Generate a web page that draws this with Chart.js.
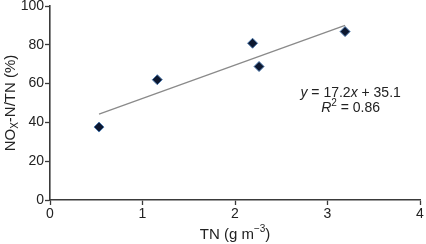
<!DOCTYPE html>
<html>
<head>
<meta charset="utf-8">
<script src="https://cdn.jsdelivr.net/npm/chart.js@4.4.1/dist/chart.umd.min.js"></script>
<style>
  html, body { margin: 0; padding: 0; background: #fff; }
  #wrap { width: 426px; height: 244px; }
</style>
</head>
<body>
<div id="wrap"><canvas id="scatter1"></canvas></div>
<script>
const tnValues = [0.53, 1.16, 2.19, 2.26, 3.19];
const noxValues = [37.6, 62.0, 80.8, 68.8, 86.8];
const fitSlope = 17.2;
const fitIntercept = 35.1;
const fitR2 = 0.86;
const xTicks = [0, 1, 2, 3, 4];
const yTicks = [0, 20, 40, 60, 80, 100];

const font = "Liberation Sans, Arial, Helvetica, sans-serif";
const textColor = "#222";

const points = tnValues.map((x, i) => ({ x: x, y: noxValues[i] }));
const xMin = Math.min(...tnValues);
const xMax = Math.max(...tnValues);
const fitLine = [
  { x: xMin, y: fitSlope * xMin + fitIntercept },
  { x: xMax, y: fitSlope * xMax + fitIntercept },
];

// draws a list of [text, style, shift] pieces starting at x
function drawPieces(ctx, pieces, x, y, align) {
  let total = 0;
  pieces.forEach((p) => {
    ctx.font = p[1];
    total += ctx.measureText(p[0]).width;
  });
  let cx = align === "center" ? x - total / 2 : x;
  pieces.forEach((p) => {
    ctx.font = p[1];
    ctx.fillText(p[0], cx, y + (p[2] || 0));
    cx += ctx.measureText(p[0]).width;
  });
}

const labelsPlugin = {
  id: "labels",
  afterDraw(chart) {
    const ctx = chart.ctx;
    const area = chart.chartArea;
    ctx.save();
    ctx.fillStyle = textColor;
    ctx.textBaseline = "middle";
    ctx.textAlign = "left";
    const t = "15px " + font;
    const tsm = "10px " + font;
    const n = "14px " + font;
    const it = "italic 14px " + font;
    const sm = "10px " + font;

    // x title
    drawPieces(ctx, [["TN (g m", t], ["\u22123", tsm, -6], [")", t]],
      (area.left + area.right) / 2, 235, "center");

    // y title (rotated)
    ctx.save();
    ctx.translate(11, (area.top + area.bottom) / 2);
    ctx.rotate(-Math.PI / 2);
    drawPieces(ctx, [["NO", t], ["X", tsm, 4], ["-N/TN (%)", t]], 0, 0, "center");
    ctx.restore();

    // equation
    const ex = chart.scales.x.getPixelForValue(3.25);
    const ey = chart.scales.y.getPixelForValue(55);
    drawPieces(ctx, [["y", it], [" = " + fitSlope + "", n], ["x", it], [" + " + fitIntercept, n]],
      ex, ey, "center");
    drawPieces(ctx, [["R", it], ["2", sm, -5], [" = " + fitR2.toFixed(2), n]],
      ex, ey + 15, "center");
    ctx.restore();
  },
};

const ctx1 = document.getElementById("scatter1").getContext("2d");
const chart1 = new Chart(ctx1, {
  type: "scatter",
  data: {
    datasets: [
      {
        type: "line",
        label: "fit",
        data: fitLine,
        borderColor: "#8a8a8a",
        borderWidth: 1.3,
        pointRadius: 0,
        fill: false,
        order: 2,
      },
      {
        label: "NOx-N/TN",
        data: points,
        pointStyle: "rectRot",
        pointRadius: 5,
        backgroundColor: "#0d1830",
        borderColor: "#4b78ad",
        borderWidth: 1,
        order: 1,
      },
    ],
  },
  options: {
    responsive: true,
    maintainAspectRatio: false,
    animation: false,
    layout: { padding: { top: 5, right: 4, left: 0, bottom: 0 } },
    plugins: {
      legend: { display: false },
      tooltip: { enabled: false },
    },
    scales: {
      x: {
        type: "linear",
        min: 0,
        max: 4,
        afterBuildTicks: (axis) => {
          axis.ticks = xTicks.map((v) => ({ value: v }));
        },
        afterFit: (axis) => {
          axis.height = 44;
          axis.paddingRight = 0; // keep the axis end where the picture has it
          axis.paddingLeft = 0;
        },
        border: { color: "#3a3a3a", width: 1.6 },
        grid: {
          drawOnChartArea: false,
          drawTicks: true,
          tickLength: 5,
          tickColor: "#3a3a3a",
          tickWidth: 1.3,
        },
        ticks: {
          color: textColor,
          font: { family: font, size: 14 },
          padding: 1,
          maxRotation: 0,
        },
      },
      y: {
        type: "linear",
        min: 0,
        max: 100,
        afterBuildTicks: (axis) => {
          axis.ticks = yTicks.map((v) => ({ value: v }));
        },
        afterFit: (axis) => {
          axis.width = 50;
          axis.paddingTop = 0;
          axis.paddingBottom = 0;
        },
        border: { color: "#3a3a3a", width: 1.6 },
        grid: {
          drawOnChartArea: false,
          drawTicks: true,
          tickLength: 5,
          tickColor: "#3a3a3a",
          tickWidth: 1.3,
        },
        ticks: {
          color: textColor,
          font: { family: font, size: 14 },
          padding: 1,
        },
      },
    },
  },
  plugins: [labelsPlugin],
});
</script>
</body>
</html>
